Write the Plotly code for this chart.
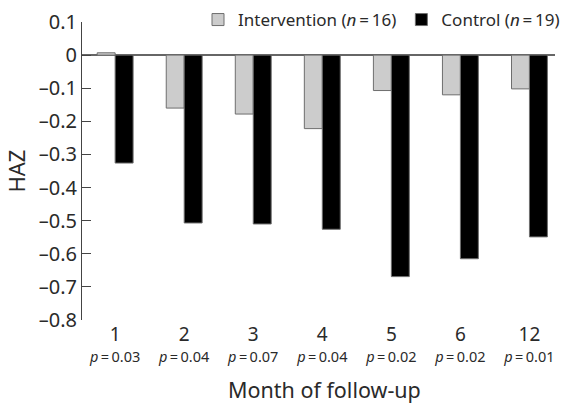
import plotly.graph_objects as go

months = ["1", "2", "3", "4", "5", "6", "12"]
p_values = ["0.03", "0.04", "0.07", "0.04", "0.02", "0.02", "0.01"]
intervention = [0.007, -0.160, -0.178, -0.222, -0.107, -0.120, -0.102]
control = [-0.326, -0.507, -0.510, -0.526, -0.669, -0.615, -0.549]
y_ticks = [0.1, 0, -0.1, -0.2, -0.3, -0.4, -0.5, -0.6, -0.7, -0.8]
x_title = "Month of follow-up"

FONT = "Noto Sans"
tick_text = [f"<span style='font-size:19px'>{m}</span><br><span style='font-size:14.5px'><i>p</i>\u2009=\u2009{p}</span>"
             for m, p in zip(months, p_values)]
y_text = [("\u2013" + f"{abs(v):g}") if v < 0 else f"{v:g}" for v in y_ticks]

fig = go.Figure()
fig.add_trace(go.Bar(
    x=months, y=intervention, name="Intervention (<i>n</i>\u2009=\u200916)",
    marker=dict(color="#cccccc", line=dict(color="#6e6e6e", width=1)),
))
fig.add_trace(go.Bar(
    x=months, y=control, name="Control (<i>n</i>\u2009=\u200919)",
    marker=dict(color="#000000", line=dict(color="#6e6e6e", width=1)),
))

fig.update_layout(
    width=565, height=403,
    margin=dict(l=82, r=10, t=22, b=83, autoexpand=False),
    paper_bgcolor="white", plot_bgcolor="white",
    barmode="group", bargap=0.48, bargroupgap=0,
    font=dict(family=FONT, size=17, color="#2a2a2a"),
    showlegend=True,
    legend=dict(orientation="h", xref="container", x=1.0, xanchor="right",
                yref="container", y=1 - 20 / 403, yanchor="middle",
                font=dict(size=17, color="#2a2a2a"), itemwidth=30,
                bgcolor="rgba(0,0,0,0)", tracegroupgap=0),
    xaxis=dict(
        type="category", categoryorder="array", categoryarray=months,
        range=[-0.48, 6.37],
        tickvals=months, ticktext=tick_text,
        showline=False, ticks="", showgrid=False, zeroline=False,
        tickfont=dict(size=16), ticklabelstandoff=4,
    ),
    yaxis=dict(
        range=[-0.8, 0.1],
        tickvals=y_ticks, ticktext=y_text,
        showline=True, linecolor="#444444", linewidth=1,
        ticks="inside", ticklen=9, tickcolor="#444444", tickwidth=1,
        showgrid=False,
        zeroline=True, zerolinecolor="#666666", zerolinewidth=1.5,
        tickfont=dict(size=20),
        title=dict(text="HAZ", font=dict(size=22), standoff=7),
    ),
    annotations=[dict(
        text=x_title, xref="paper", x=0.512, xanchor="center",
        yref="paper", y=-0.232, yanchor="middle", showarrow=False,
        font=dict(size=21.5, color="#2a2a2a"),
    )],
)

fig.write_html("out.html", config={"displayModeBar": False},
               post_script="document.body.style.margin='0';document.body.style.overflow='hidden';")
